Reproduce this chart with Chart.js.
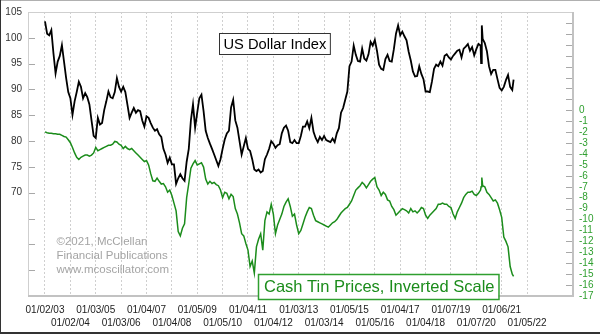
<!DOCTYPE html>
<html>
<head>
<meta charset="utf-8">
<script src="https://cdn.jsdelivr.net/npm/chart.js"></script>
<style>
  html, body { margin: 0; padding: 0; background: #fff; }
  #wrap { width: 600px; height: 334px; position: relative; }
</style>
</head>
<body>
<div id="wrap"><canvas id="dollarTin" width="600" height="334"></canvas></div>
<script>
// month dates (a couple of extra points in March 2020 for the spike)
const dates = [
  "2003-01","2003-02","2003-03","2003-04","2003-05","2003-06","2003-07","2003-08","2003-09","2003-10","2003-11","2003-12",
  "2004-01","2004-02","2004-03","2004-04","2004-05","2004-06","2004-07","2004-08","2004-09","2004-10","2004-11","2004-12",
  "2005-01","2005-02","2005-03","2005-04","2005-05","2005-06","2005-07","2005-08","2005-09","2005-10","2005-11","2005-12",
  "2006-01","2006-02","2006-03","2006-04","2006-05","2006-06","2006-07","2006-08","2006-09","2006-10","2006-11","2006-12",
  "2007-01","2007-02","2007-03","2007-04","2007-05","2007-06","2007-07","2007-08","2007-09","2007-10","2007-11","2007-12",
  "2008-01","2008-02","2008-03","2008-04","2008-05","2008-06","2008-07","2008-08","2008-09","2008-10","2008-11","2008-12",
  "2009-01","2009-02","2009-03","2009-04","2009-05","2009-06","2009-07","2009-08","2009-09","2009-10","2009-11","2009-12",
  "2010-01","2010-02","2010-03","2010-04","2010-05","2010-06","2010-07","2010-08","2010-09","2010-10","2010-11","2010-12",
  "2011-01","2011-02","2011-03","2011-04","2011-05","2011-06","2011-07","2011-08","2011-09","2011-10","2011-11","2011-12",
  "2012-01","2012-02","2012-03","2012-04","2012-05","2012-06","2012-07","2012-08","2012-09","2012-10","2012-11","2012-12",
  "2013-01","2013-02","2013-03","2013-04","2013-05","2013-06","2013-07","2013-08","2013-09","2013-10","2013-11","2013-12",
  "2014-01","2014-02","2014-03","2014-04","2014-05","2014-06","2014-07","2014-08","2014-09","2014-10","2014-11","2014-12",
  "2015-01","2015-02","2015-03","2015-04","2015-05","2015-06","2015-07","2015-08","2015-09","2015-10","2015-11","2015-12",
  "2016-01","2016-02","2016-03","2016-04","2016-05","2016-06","2016-07","2016-08","2016-09","2016-10","2016-11","2016-12",
  "2017-01","2017-02","2017-03","2017-04","2017-05","2017-06","2017-07","2017-08","2017-09","2017-10","2017-11","2017-12",
  "2018-01","2018-02","2018-03","2018-04","2018-05","2018-06","2018-07","2018-08","2018-09","2018-10","2018-11","2018-12",
  "2019-01","2019-02","2019-03","2019-04","2019-05","2019-06","2019-07","2019-08","2019-09","2019-10","2019-11","2019-12",
  "2020-01","2020-02","2020-03","2020-03-09","2020-03-19","2020-04","2020-05","2020-06","2020-07","2020-08","2020-09","2020-10","2020-11","2020-12",
  "2021-01","2021-02","2021-03","2021-04","2021-05","2021-06","2021-06-20"
];

// US Dollar Index (left scale)
const dollarIndex = [
  103.2,100.8,100.5,101.5,97.0,93.1,95.4,96.5,98.6,95.4,92.2,89.5,
  88.3,85.1,87.7,89.5,91.5,90.5,88.3,89.3,88.5,87.1,84.0,81.0,
  80.6,84.5,83.2,83.5,86.0,87.7,89.6,88.5,88.3,89.5,92.2,90.5,
  89.6,90.5,89.5,87.0,84.5,85.5,86.4,85.5,86.0,85.8,84.0,82.8,
  84.8,84.5,83.5,82.6,82.0,82.3,81.3,80.8,78.5,77.4,75.8,76.8,
  75.5,75.5,71.7,72.8,73.6,72.8,72.3,76.0,78.5,84.0,87.1,82.6,
  85.5,88.3,89.0,85.8,82.0,80.6,79.5,78.5,77.4,76.3,75.2,76.5,
  78.5,80.3,81.5,82.0,86.5,88.0,84.0,82.6,80.0,77.4,79.0,80.6,
  78.5,78.1,76.5,74.5,74.2,74.5,73.9,74.2,76.5,77.4,78.5,80.0,
  79.5,78.7,79.2,79.4,81.5,82.6,83.0,82.0,79.8,79.6,80.2,79.6,
  79.6,81.0,82.8,82.8,83.8,82.5,84.5,81.8,80.6,79.8,80.8,80.2,
  81.0,80.2,80.0,79.8,80.5,79.8,81.5,82.5,85.5,86.4,88.0,89.6,
  94.5,95.4,98.5,96.7,95.5,95.4,97.9,96.0,95.6,96.8,99.2,98.5,
  99.6,97.5,94.8,94.0,93.8,95.9,96.7,95.5,95.4,97.8,100.8,102.4,
  100.5,101.2,100.3,99.5,97.3,95.6,93.5,92.5,92.6,94.5,93.0,92.0,
  89.6,89.6,89.5,91.5,94.0,94.8,94.5,95.4,94.6,96.5,96.8,96.2,
  95.8,96.5,97.0,97.5,97.7,96.2,97.9,98.3,98.8,97.5,98.2,96.6,
  97.8,98.8,98.5,95.1,102.4,99.8,99.0,97.4,94.5,93.0,93.8,93.8,92.0,90.3,
  89.8,90.5,91.8,92.8,90.5,89.9,91.9
];

// Cash tin price, $/lb, plotted negative (inverted right scale)
const tinInverted = [
  -1.97,-2.05,-2.1,-2.1,-2.15,-2.15,-2.2,-2.2,-2.3,-2.4,-2.45,-2.7,
  -2.97,-3.4,-3.9,-4.3,-4.5,-4.3,-4.2,-4.1,-4.1,-4.2,-4.1,-3.9,
  -3.4,-3.7,-3.6,-3.5,-3.4,-3.3,-3.2,-3.2,-3.1,-2.85,-2.9,-3.1,
  -3.2,-3.5,-3.3,-3.5,-3.6,-3.5,-3.7,-3.9,-4.1,-4.3,-4.5,-4.7,
  -4.6,-5.0,-5.8,-6.45,-6.5,-6.2,-6.5,-6.75,-6.7,-7.0,-7.5,-7.3,
  -7.8,-8.5,-9.2,-11.1,-11.5,-10.8,-10.4,-8.0,-6.7,-5.3,-4.9,-4.6,
  -5.0,-4.9,-4.8,-5.2,-6.3,-6.75,-6.5,-6.7,-6.6,-6.8,-6.9,-7.3,
  -8.0,-7.5,-7.6,-8.1,-7.7,-7.9,-9.0,-9.5,-10.3,-11.3,-11.5,-12.2,
  -12.8,-14.3,-13.8,-14.9,-12.5,-11.8,-11.3,-12.8,-10.1,-9.3,-9.5,-8.6,
  -9.5,-11.3,-10.5,-10.0,-9.5,-8.8,-8.4,-8.1,-8.8,-9.7,-9.5,-10.5,
  -11.3,-11.0,-10.4,-9.8,-9.3,-8.9,-9.0,-9.6,-10.1,-10.2,-10.3,-10.4,
  -10.5,-10.6,-10.7,-10.5,-10.3,-10.2,-10.0,-9.7,-9.4,-9.2,-9.0,-8.9,
  -8.6,-8.3,-7.8,-7.3,-7.1,-6.9,-6.6,-6.8,-7.1,-6.8,-6.5,-6.3,
  -6.15,-7.0,-7.3,-7.8,-7.5,-7.7,-8.2,-8.3,-8.8,-9.1,-9.6,-9.4,
  -9.2,-9.0,-9.1,-9.2,-9.4,-9.0,-9.3,-9.2,-9.4,-9.2,-8.9,-9.0,
  -9.6,-9.9,-9.6,-9.4,-9.2,-9.0,-8.6,-8.6,-8.5,-8.6,-8.6,-8.8,
  -8.9,-9.5,-9.9,-9.3,-8.9,-8.5,-8.0,-7.7,-7.5,-7.5,-7.4,-7.7,
  -7.8,-7.6,-7.3,-7.0,-6.15,-6.9,-7.0,-7.5,-7.7,-8.0,-8.3,-8.2,-8.5,-9.1,
  -9.8,-11.6,-12.0,-12.5,-14.3,-15.0,-15.2
];

// x-axis labels (one per year, shown in two staggered rows)
const tickLabels = [
  "01/02/03","01/02/04","01/03/05","01/03/06","01/04/07","01/04/08","01/05/09",
  "01/05/10","01/04/11","01/04/12","01/03/13","01/03/14","01/05/15","01/05/16",
  "01/04/17","01/04/18","01/07/19","01/07/20","01/06/21","01/05/22"
];

const FONT = "'Liberation Sans', Arial, sans-serif";
const GREEN = "#1b8c1b";
const GREEN_TXT = "#2f9f2f";

function toYear(s) {
  const p = s.split("-").map(Number);
  return p[0] + (p[1] - 1) / 12 + ((p[2] || 1) - 1) / 365;
}
function labelYear(lbl) {
  return 2000 + parseInt(lbl.slice(6), 10);
}

const xs = dates.map(toYear);
const tickYears = tickLabels.map(labelYear);

// inward tick marks on both value axes, plus the plot frame
const innerTicks = {
  id: "innerTicks",
  afterDraw(chart) {
    const ctx = chart.ctx;
    const a = chart.chartArea;
    ctx.save();
    ctx.strokeStyle = "#a8a8a8";
    ctx.lineWidth = 1;
    chart.scales.y.ticks.forEach(t => {
      const y = Math.round(chart.scales.y.getPixelForValue(t.value)) + 0.5;
      ctx.beginPath(); ctx.moveTo(a.left, y); ctx.lineTo(a.left + 7, y); ctx.stroke();
    });
    chart.scales.y2.ticks.forEach(t => {
      const y = Math.round(chart.scales.y2.getPixelForValue(t.value)) + 0.5;
      ctx.beginPath(); ctx.moveTo(a.right - 7, y); ctx.lineTo(a.right, y); ctx.stroke();
    });
    ctx.fillStyle = "#cfcfcf";
    ctx.fillRect(a.left, a.top, a.right - a.left, 1);
    ctx.fillRect(a.left, a.top, 1, a.bottom - a.top);
    ctx.fillStyle = "#c2c2c2";
    ctx.fillRect(a.right - 1, a.top, 2, a.bottom - a.top + 1);
    ctx.fillRect(a.left, a.bottom - 1, a.right - a.left + 1, 2);
    ctx.restore();
  }
};

// labels, boxes and credit text
const notes = {
  id: "notes",
  afterDraw(chart) {
    const ctx = chart.ctx;
    ctx.save();
    ctx.textBaseline = "middle";

    // US Dollar Index box
    ctx.font = "14.7px " + FONT;
    let w = ctx.measureText("US Dollar Index").width;
    ctx.fillStyle = "#fff";
    ctx.fillRect(219, 33, w + 8, 21);
    ctx.strokeStyle = "#333";
    ctx.lineWidth = 1;
    ctx.strokeRect(219.5, 33.5, w + 8, 21);
    ctx.fillStyle = "#000";
    ctx.fillText("US Dollar Index", 223.5, 44.5);

    // tin box
    ctx.font = "16.5px " + FONT;
    w = ctx.measureText("Cash Tin Prices, Inverted Scale").width;
    ctx.fillStyle = "#fff";
    ctx.fillRect(258, 274, w + 10, 25);
    ctx.strokeStyle = GREEN_TXT;
    ctx.lineWidth = 1.5;
    ctx.strokeRect(258.5, 274.5, w + 10, 25);
    ctx.fillStyle = GREEN;
    ctx.fillText("Cash Tin Prices, Inverted Scale", 264, 287.5);

    // credit
    ctx.font = "11.5px " + FONT;
    ctx.fillStyle = "#a4a4a4";
    ctx.fillText("\u00a92021, McClellan", 56.5, 242);
    ctx.fillText("Financial Publications", 56.5, 256);
    ctx.fillText("www.mcoscillator.com", 56.5, 269.5);

    // outer picture edge
    ctx.fillStyle = "#b0b0b0";
    ctx.fillRect(0, 0, 600, 1);
    ctx.fillStyle = "#333";
    ctx.fillRect(0, 0, 1, 334);
    ctx.fillRect(0, 332, 600, 2);
    ctx.restore();
  }
};

const ctx = document.getElementById("dollarTin").getContext("2d");
new Chart(ctx, {
  type: "line",
  data: {
    datasets: [
      {
        label: "US Dollar Index",
        data: xs.map((x, i) => ({ x: x, y: dollarIndex[i] })),
        yAxisID: "y",
        borderColor: "#000",
        borderWidth: 1.8,
        pointRadius: 0,
        tension: 0,
        fill: false,
      },
      {
        label: "Cash Tin Prices, Inverted Scale",
        data: xs.map((x, i) => ({ x: x, y: tinInverted[i] })),
        yAxisID: "y2",
        borderColor: GREEN,
        borderWidth: 1.5,
        pointRadius: 0,
        tension: 0,
        fill: false,
      },
    ],
  },
  options: {
    responsive: false,
    animation: false,
    layout: { padding: { top: 10, left: 0, right: 0, bottom: 0 } },
    plugins: {
      legend: { display: false },
      tooltip: { enabled: false },
    },
    scales: {
      x: {
        type: "linear",
        position: "bottom",
        min: 2002.33,
        max: 2023.81,
        afterBuildTicks: (scale) => {
          scale.ticks = tickYears.map(v => ({ value: v }));
        },
        afterFit: (scale) => { scale.height = 38; },
        grid: { color: "#cfcfcf", lineWidth: 1, drawTicks: false },
        border: { display: false, dash: [2, 2] },
        ticks: {
          autoSkip: false,
          maxRotation: 0,
          padding: 8,
          color: "#222",
          font: { family: FONT, size: 10, lineHeight: 1.3 },
          callback: (v) => {
            const i = tickYears.indexOf(Math.round(v));
            if (i < 0) return "";
            return i % 2 === 0 ? [tickLabels[i], ""] : ["", tickLabels[i]];
          },
        },
      },
      y: {
        position: "left",
        min: 50,
        max: 105,
        afterFit: (scale) => { scale.width = 28; },
        grid: { display: false, drawTicks: false },
        border: { display: false },
        ticks: {
          stepSize: 5,
          autoSkip: false,
          padding: 6,
          color: "#333",
          font: { family: FONT, size: 10 },
          callback: (v) => (v >= 70 ? v : ""),
        },
      },
      y2: {
        position: "right",
        min: -17,
        max: 9,
        afterFit: (scale) => { scale.width = 27; },
        grid: { display: false, drawTicks: false },
        border: { display: false },
        ticks: {
          stepSize: 1,
          autoSkip: false,
          padding: 6,
          color: GREEN_TXT,
          font: { family: FONT, size: 10 },
          callback: (v) => (v <= 0 ? v : ""),
        },
      },
    },
  },
  plugins: [innerTicks, notes],
});
</script>
</body>
</html>
